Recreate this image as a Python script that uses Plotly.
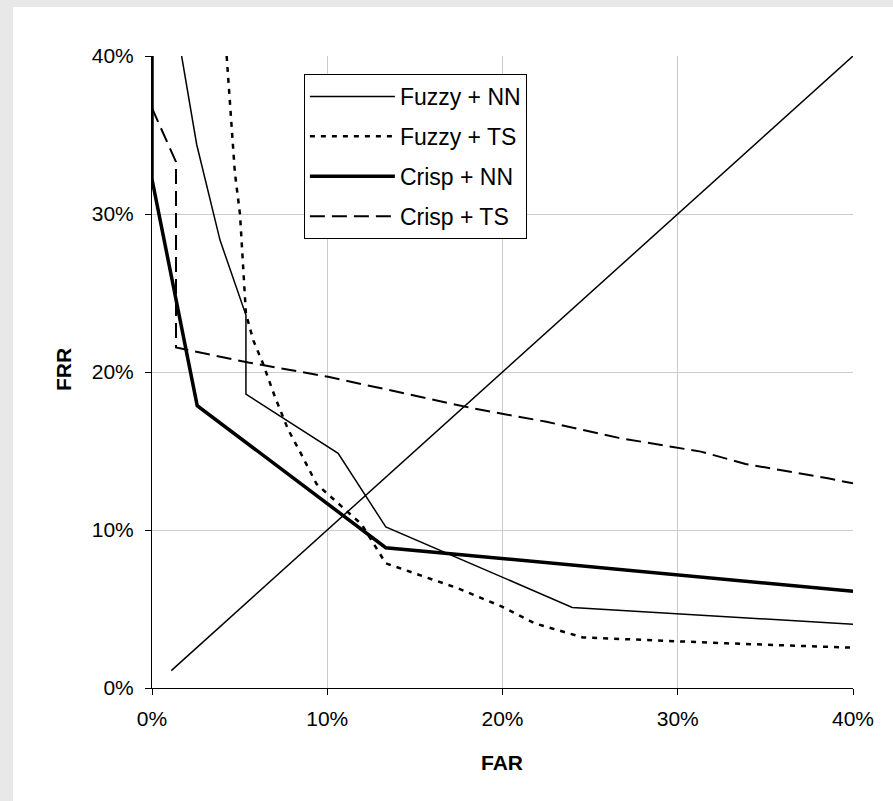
import plotly.graph_objects as go

# Data (percent)
fuzzy_nn_far = [1.69, 2.55, 3.88, 5.36, 5.36, 10.62, 13.34, 23.98, 40.0]
fuzzy_nn_frr = [40.0, 34.4, 28.35, 23.6, 18.6, 14.85, 10.2, 5.1, 4.03]

fuzzy_ts_far = [4.26, 4.73, 5.02, 5.36, 5.78, 6.31, 7.01, 7.77, 8.44, 9.39, 11.96, 13.34,
                17.46, 19.97, 21.84, 24.59, 32.77, 40.0]
fuzzy_ts_frr = [40.0, 32.6, 30.0, 23.7, 22.0, 20.6, 18.44, 16.35, 14.96, 12.91, 10.36, 7.89,
                6.31, 5.15, 4.09, 3.2, 2.83, 2.55]

crisp_nn_far = [0.0, 0.0, 2.58, 13.34, 40.0]
crisp_nn_frr = [40.0, 32.2, 17.87, 8.88, 6.12]

crisp_ts_far = [0.0, 1.37, 1.37, 5.5, 10.05, 15.26, 18.39, 22.51, 26.63, 31.32, 33.87, 38.57, 40.0]
crisp_ts_frr = [36.7, 33.3, 21.55, 20.6, 19.7, 18.44, 17.68, 16.85, 15.83, 14.96, 14.18, 13.27, 12.95]

eer_far = [1.1, 40.0]
eer_frr = [1.1, 40.0]

tick_vals = [0, 10, 20, 30, 40]
tick_text = ["0%", "10%", "20%", "30%", "40%"]

FONT = "Liberation Sans, Arial, sans-serif"

fig = go.Figure()
fig.add_trace(go.Scatter(x=fuzzy_nn_far, y=fuzzy_nn_frr, mode="lines", name="Fuzzy + NN",
                         legendgroup="a", line=dict(color="black", width=1.5)))
fig.add_trace(go.Scatter(x=fuzzy_ts_far, y=fuzzy_ts_frr, mode="lines", name="Fuzzy + TS",
                         legendgroup="b", line=dict(color="black", width=2.5, dash="5px,6px")))
fig.add_trace(go.Scatter(x=crisp_nn_far, y=crisp_nn_frr, mode="lines", name="Crisp + NN",
                         legendgroup="c", line=dict(color="black", width=3.5)))
fig.add_trace(go.Scatter(x=crisp_ts_far, y=crisp_ts_frr, mode="lines", name="Crisp + TS",
                         legendgroup="d", line=dict(color="black", width=2, dash="15px,7px")))
fig.add_trace(go.Scatter(x=eer_far, y=eer_frr, mode="lines", showlegend=False,
                         line=dict(color="black", width=1.5)))

L, R, T, B = 152, 39.5, 56, 113
W, H = 893, 801
pw, ph = W - L - R, H - T - B

def px_x(p):
    return (p - L) / pw

def px_y(p):
    return (H - B - p) / ph

fig.update_layout(
    width=W, height=H,
    margin=dict(l=L, r=R, t=T, b=B, autoexpand=False),
    paper_bgcolor="#e8e8e8",
    plot_bgcolor="white",
    font=dict(family=FONT, size=21, color="black"),
    showlegend=True,
    legend=dict(
        x=px_x(304), y=px_y(74), xanchor="left", yanchor="top",
        bgcolor="white", bordercolor="black", borderwidth=1,
        font=dict(family=FONT, size=23, color="black"),
        tracegroupgap=7, traceorder="grouped", itemwidth=85,
    ),
    shapes=[dict(type="rect", xref="paper", yref="paper",
                 x0=px_x(13), x1=px_x(W + 5), y0=px_y(7), y1=px_y(H + 5),
                 fillcolor="white", line=dict(width=0), layer="below")],
    annotations=[
        dict(text="<b>FAR</b>", xref="paper", yref="paper", x=px_x(502.5), y=px_y(762),
             showarrow=False, xanchor="center", yanchor="middle",
             font=dict(family=FONT, size=21, color="black")),
        dict(text="<b>FRR</b>", xref="paper", yref="paper", x=px_x(63), y=px_y(370),
             showarrow=False, xanchor="center", yanchor="middle", textangle=-90,
             font=dict(family=FONT, size=21, color="black")),
    ],
)
fig.update_xaxes(range=[0, 40], tickvals=tick_vals, ticktext=tick_text,
                 ticks="outside", ticklen=6, tickcolor="black", ticklabelstandoff=6,
                 showline=True, linecolor="black", linewidth=1,
                 showgrid=True, gridcolor="#cccccc", gridwidth=1, zeroline=False,
                 tickfont=dict(family=FONT, size=21))
fig.update_yaxes(range=[0, 40], tickvals=tick_vals, ticktext=tick_text,
                 ticks="outside", ticklen=6, tickcolor="black", ticklabelstandoff=7,
                 showline=True, linecolor="black", linewidth=1,
                 showgrid=True, gridcolor="#cccccc", gridwidth=1, zeroline=False,
                 tickfont=dict(family=FONT, size=21))

fig.write_html("out.html",
               config={"displayModeBar": False},
               post_script="document.body.style.margin='0';document.body.style.overflow='hidden';")
